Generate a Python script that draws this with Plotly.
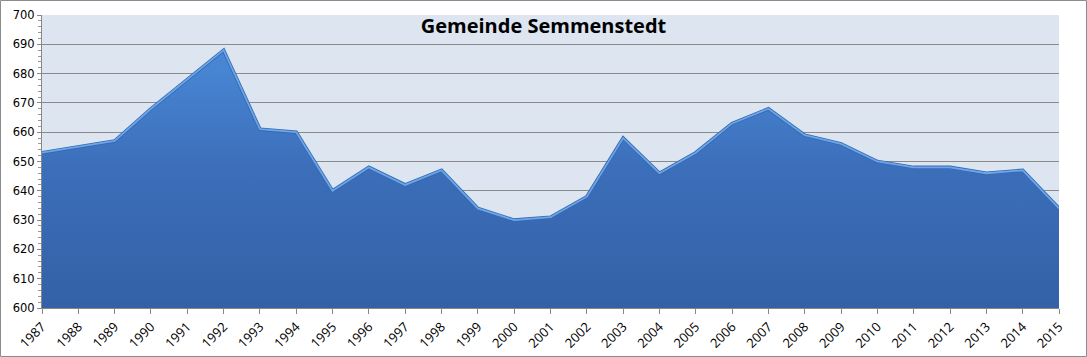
import plotly.graph_objects as go

years = list(range(1987, 2016))
population = [653, 655, 657, 668, 678, 688, 661, 660, 640, 648, 642, 647, 634, 630, 631,
              638, 658, 646, 653, 663, 668, 659, 656, 650, 648, 648, 646, 647, 634]
title_text = "Gemeinde Semmenstedt"
y_ticks = list(range(600, 701, 10))

W, H = 1087, 357
ML, MR, MT, MB = 42, 28, 15, 49
PW, PH = W - ML - MR, H - MT - MB

fig = go.Figure()
fig.add_trace(go.Scatter(
    x=years, y=population, mode="lines",
    fill="tozeroy",
    fillgradient=dict(type="vertical", start=600, stop=690,
                      colorscale=[[0, "#3461a6"], [0.5, "#3b6db8"], [1, "#4a8ad9"]]),
    line=dict(color="#3a69ad", width=3.5),
    hoverinfo="x+y", showlegend=False,
))
fig.add_trace(go.Scatter(
    x=years, y=population, mode="lines",
    line=dict(color="#6aa6ec", width=1.8),
    hoverinfo="skip", showlegend=False,
))

fig.update_layout(
    width=W, height=H,
    margin=dict(l=ML, r=MR, t=MT, b=MB, pad=0),
    paper_bgcolor="white",
    plot_bgcolor="#dde5f1",
    title=dict(text="<b>" + title_text + "</b>", x=0.5, xanchor="center",
               y=1 - 26 / H, yanchor="middle",
               font=dict(family="Open Sans", size=20, color="black")),
    xaxis=dict(
        range=[1987, 2015], tickmode="array", tickvals=years,
        ticktext=[str(y) for y in years], tickangle=-45, automargin=False,
        tickfont=dict(family="Open Sans", size=13, color="black"),
        showgrid=False, zeroline=False,
        showline=True, linecolor="#888888", linewidth=1,
        ticks="outside", ticklen=5, tickcolor="#888888",
    ),
    yaxis=dict(
        range=[600, 700], tickmode="array", tickvals=y_ticks, automargin=False,
        tickfont=dict(family="DejaVu Sans", size=11.5, color="black"),
        showgrid=True, gridcolor="#8a8a8a", gridwidth=1, zeroline=False,
        showline=True, linecolor="#888888", linewidth=1,
        ticks="outside", ticklen=4, tickcolor="#888888",
        minor=dict(dtick=2, ticks="outside", ticklen=3, tickcolor="#999999", showgrid=False),
    ),
    shapes=[dict(type="rect", xref="paper", yref="paper",
                 x0=(0.5 - ML) / PW, x1=(W - 0.5 - ML) / PW,
                 y0=-(H - 0.5 - MT - PH) / PH, y1=(H - 0.5 - MB) / PH,
                 line=dict(color="#8c8c8c", width=1), fillcolor="rgba(0,0,0,0)", layer="above")],
)

fig.write_html("out.html", config={"displayModeBar": False},
               post_script="document.body.style.margin='0';document.body.style.overflow='hidden';")
